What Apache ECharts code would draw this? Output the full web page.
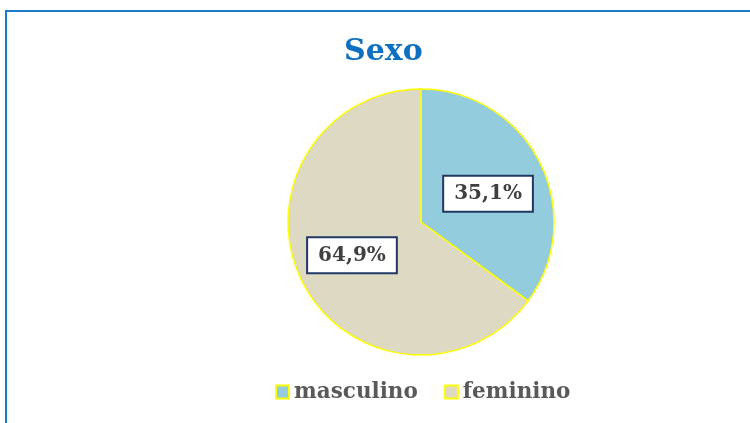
<!DOCTYPE html>
<html><head><meta charset="utf-8">
<script src="https://cdn.jsdelivr.net/npm/echarts@6/dist/echarts.min.js"></script>
<style>html,body{margin:0;padding:0;background:#fff}#c{width:750px;height:423px}</style>
</head><body><div id="c"></div>
<script>
const titleText = 'Sexo';
const categories = ['masculino', 'feminino'];
const values = [35.1, 64.9];
const colors = ['#93CDDD', '#DDD9C3'];

const chart = echarts.init(document.getElementById('c'));
const serif = '"DejaVu Serif", "Liberation Serif", serif';
chart.setOption({
  animation: false,
  backgroundColor: '#fff',
  graphic: [{
    type: 'rect', shape: {x: 6, y: 11, width: 760, height: 430},
    style: {fill: 'none', stroke: '#1B7BCB', lineWidth: 2}, silent: true
  }],
  title: {
    text: titleText, left: 339, top: 32,
    textStyle: {fontFamily: serif, fontWeight: 'bold', fontSize: 30, color: '#0E70C0'}
  },
  legend: {
    top: 376, left: 270, itemWidth: 13, itemHeight: 13, itemGap: 26,
    icon: 'rect',
    itemStyle: {borderColor: '#FFFF00', borderWidth: 2},
    textStyle: {fontFamily: serif, fontWeight: 'bold', fontSize: 21.5, color: '#595959'},
    data: categories
  },
  series: [{
    type: 'pie',
    center: [421, 222],
    radius: 133,
    startAngle: 90,
    clockwise: true,
    data: categories.map((c, i) => ({name: c, value: values[i], itemStyle: {color: colors[i]}})),
    itemStyle: {borderColor: '#FFFF00', borderWidth: 1.5},
    label: {
      position: 'inside',
      formatter: p => p.value.toFixed(1).replace('.', ',') + '%',
      fontFamily: serif, fontWeight: 'bold', fontSize: 20, color: '#404040',
      backgroundColor: '#fff', borderColor: '#1F3864', borderWidth: 2,
      padding: [8, 10, 6, 10]
    },
    labelLayout: p => p.dataIndex === 1 ? {dx: -7, dy: 2} : {dx: 5, dy: 3},
    emphasis: {disabled: true}
  }]
});
</script></body></html>
